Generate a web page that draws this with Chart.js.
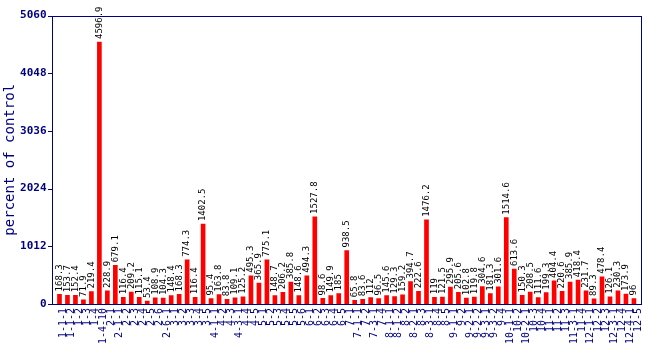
<!DOCTYPE html>
<html>
<head>
<meta charset="utf-8">
<script src="https://cdn.jsdelivr.net/npm/chart.js@4/dist/chart.umd.min.js"></script>
<style>
  html, body { margin: 0; padding: 0; background: #ffffff; }
  #wrap { width: 650px; height: 350px; }
</style>
</head>
<body>
<div id="wrap"><canvas id="c" width="650" height="350"></canvas></div>
<script>
// ---- data ----
const categories = [
  "1-1-1","1-1-2","1-2","1-3","1-4","1-4-10","2-1","2-1-1","2-2","2-3",
  "2-4","2-5","2-6","2-6-1","3-1","3-2","3-3","3-4","3-5","4-1-1",
  "4-2","4-3","4-3-1","4-4","4-5","5-1","5-2","5-3","5-4","5-5",
  "5-6","6-1","6-2","6-3","6-4","6-5","7-1","7-1-1","7-2","7-3-1",
  "7-4","8-1-1","8-1-2","8-2","8-2-1","8-3","8-3-1","8-4","8-5","9-1-1",
  "9-2","9-2-1","9-2-2","9-3-1","9-3-2","9-4","10-1-1","10-2","10-2-1","10-3",
  "10-4","11-1","11-2","11-3","11-3-1","11-4","12-1-1","12-2","12-3","12-3-1",
  "12-4","12-4-1","12-5"
];
const values = [
  168.3,153.7,152.4,71.9,219.4,4596.9,228.9,679.1,116.4,209.2,
  115.1,53.4,108.9,104.3,148.4,168.3,774.3,116.4,1402.5,95.4,
  163.8,83.8,109.1,125.2,495.3,365.9,775.1,148.7,206.2,385.8,
  148.6,494.3,1527.8,98.6,149.9,185,938.5,65.8,83.6,112,
  96.5,145.6,129.3,159.2,394.7,222.6,1476.2,119,121.5,295.9,
  205.6,102.8,119.8,304.6,181.3,301.6,1514.6,613.6,150.3,208.5,
  111.6,199.3,404.4,220.6,385.9,418.4,231.7,89.3,478.4,126.1,
  230.3,173.9,96
];
const yTicks = [0, 1012, 2024, 3036, 4048, 5060];
const yTitle = "percent of control";

const NAVY = "#000080";
const MONO = "'DejaVu Sans Mono', 'Liberation Mono', monospace";

const decor = {
  id: "decor",
  afterDatasetsDraw(chart) {
    const ctx = chart.ctx;
    const a = chart.chartArea;
    const ys = chart.scales.y;
    const L = a.left - 3.5, R = a.right + 3.5;
    ctx.save();
    // frame
    ctx.strokeStyle = NAVY;
    ctx.lineWidth = 1;
    ctx.strokeRect(Math.round(L) + 0.5, Math.round(a.top) + 0.5, Math.round(R - L), Math.round(a.bottom - a.top));
    // y tick marks
    ys.ticks.forEach(t => {
      const py = Math.round(ys.getPixelForValue(t.value)) + 0.5;
      ctx.beginPath();
      ctx.moveTo(Math.round(L) - 4, py);
      ctx.lineTo(Math.round(L), py);
      ctx.stroke();
    });
    // value labels
    const meta = chart.getDatasetMeta(0);
    ctx.fillStyle = "#000000";
    ctx.font = "9px " + MONO;
    ctx.textAlign = "left";
    ctx.textBaseline = "middle";
    meta.data.forEach((bar, i) => {
      ctx.save();
      ctx.translate(bar.x, bar.y - 3);
      ctx.rotate(-Math.PI / 2);
      ctx.fillText(String(values[i]), 0, 0);
      ctx.restore();
    });
    ctx.restore();
  }
};

new Chart(document.getElementById("c"), {
  type: "bar",
  data: {
    labels: categories,
    datasets: [{
      data: values,
      backgroundColor: "#ff0000",
      borderWidth: 0,
      barThickness: 4
    }]
  },
  options: {
    responsive: false,
    animation: false,
    devicePixelRatio: 1,
    layout: { padding: { top: 10, right: 10.5, left: 0, bottom: 0 } },
    plugins: { legend: { display: false }, tooltip: { enabled: false } },
    scales: {
      x: {
        offset: true,
        grid: { display: false, drawTicks: false },
        border: { display: false },
        ticks: {
          autoSkip: false,
          maxRotation: 90,
          minRotation: 90,
          padding: 4,
          labelOffset: 4,
          color: NAVY,
          font: { family: MONO, size: 10 }
        },
        afterFit(s) { s.height = 46; }
      },
      y: {
        min: 0,
        max: 5060,
        afterBuildTicks(s) { s.ticks = yTicks.map(v => ({ value: v })); },
        grid: { display: false, drawTicks: false },
        border: { display: false },
        ticks: {
          padding: 9,
          color: NAVY,
          font: { family: MONO, size: 11, weight: "bold" },
          callback: v => String(v)
        },
        title: {
          display: true,
          text: yTitle,
          color: NAVY,
          font: { family: MONO, size: 14 },
          padding: { top: 2, bottom: 0 }
        },
        afterFit(s) { s.width = 55.5; }
      }
    }
  },
  plugins: [decor]
});
</script>
</body>
</html>
